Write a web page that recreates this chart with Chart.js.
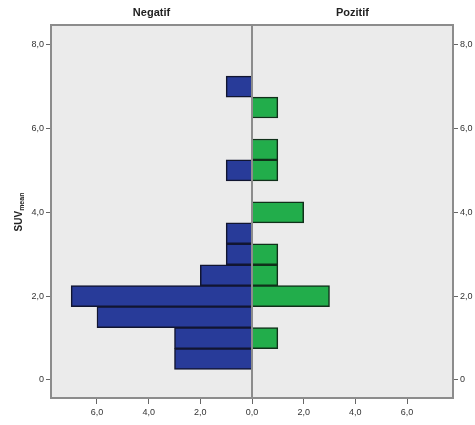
<!DOCTYPE html>
<html>
<head>
<meta charset="utf-8">
<script src="https://cdn.jsdelivr.net/npm/chart.js@4.4.1/dist/chart.umd.min.js"></script>
<style>
  body { margin: 0; background: #fff; }
  #wrap { width: 475px; height: 425px; position: relative; }
</style>
</head>
<body>
<div id="wrap"><canvas id="myChart"></canvas></div>
<script>
// SUVmean bins (centre of each 0.5 wide class)
const bins = [0.5, 1.0, 1.5, 2.0, 2.5, 3.0, 3.5, 4.0, 4.5, 5.0, 5.5, 6.0, 6.5, 7.0];
const negatif = [3, 3, 6, 7, 2, 1, 1, 0, 0, 1, 0, 0, 0, 1];
const pozitif = [0, 1, 0, 3, 1, 1, 0, 2, 0, 1, 1, 0, 1, 0];
const yTicks = [0, 2, 4, 6, 8];
const xTicks = [-6, -4, -2, 0, 2, 4, 6];
const panelTitles = ["Negatif", "Pozitif"];

const fmt = (v) => Math.abs(v).toFixed(1).replace(".", ",");

// turn counts into bar points, left side negative
const toPoints = (counts, sign) =>
  bins
    .map((b, i) => ({ x: sign * counts[i], y: b }))
    .filter((p) => p.x !== 0);

const frame = {
  id: "frame",
  beforeDatasetsDraw(chart) {
    const { ctx, chartArea: { left, top, right, bottom } } = chart;
    ctx.save();
    ctx.fillStyle = "#ebebeb";
    ctx.fillRect(left, top, right - left, bottom - top);
    ctx.restore();
  },
  afterDatasetsDraw(chart) {
    const { ctx, chartArea: { left, top, right, bottom }, scales } = chart;
    const x0 = scales.x.getPixelForValue(0);
    ctx.save();
    ctx.strokeStyle = "#8c8c8c";
    ctx.lineWidth = 2;
    ctx.beginPath();
    ctx.moveTo(x0, top);
    ctx.lineTo(x0, bottom);
    ctx.stroke();
    ctx.strokeRect(left, top, right - left, bottom - top);

    // panel titles
    ctx.fillStyle = "#222";
    ctx.font = "bold 11px 'Liberation Sans', Arial, sans-serif";
    ctx.textAlign = "center";
    ctx.textBaseline = "middle";
    ctx.fillText(panelTitles[0], (left + x0) / 2, 13);
    ctx.fillText(panelTitles[1], (x0 + right) / 2, 13);

    // y title with subscript
    ctx.translate(19, 212);
    ctx.rotate(-Math.PI / 2);
    ctx.textAlign = "left";
    ctx.font = "bold 10px 'Liberation Sans', Arial, sans-serif";
    const w1 = ctx.measureText("SUV").width;
    ctx.font = "bold 7px 'Liberation Sans', Arial, sans-serif";
    const w2 = ctx.measureText("mean").width;
    const start = -(w1 + w2) / 2;
    ctx.font = "bold 10px 'Liberation Sans', Arial, sans-serif";
    ctx.fillText("SUV", start, 0);
    ctx.font = "bold 7px 'Liberation Sans', Arial, sans-serif";
    ctx.fillText("mean", start + w1, 3);
    ctx.restore();
  },
};

const tickFont = { family: "'Liberation Sans', Arial, sans-serif", size: 9 };

const yAxis = (pos, width) => ({
  type: "linear",
  position: pos,
  offset: false,
  min: -0.43,
  max: 8.47,
  afterBuildTicks: (scale) => {
    scale.ticks = yTicks.map((v) => ({ value: v }));
  },
  afterFit: (scale) => {
    scale.width = width;
  },
  ticks: {
    color: "#333",
    font: tickFont,
    padding: 2,
    callback: (v) => (v === 0 ? "0" : fmt(v)),
  },
  grid: { offset: false, drawOnChartArea: false, tickLength: 5, color: "#666" },
  border: { display: false },
});

const config = {
  type: "bar",
  data: {
    datasets: [
      {
        label: panelTitles[0],
        data: toPoints(negatif, -1),
        backgroundColor: "#283b99",
        borderColor: "#111530",
        borderWidth: 1.5,
      },
      {
        label: panelTitles[1],
        data: toPoints(pozitif, 1),
        backgroundColor: "#22ad4b",
        borderColor: "#10301a",
        borderWidth: 1.5,
      },
    ],
  },
  plugins: [frame],
  options: {
    indexAxis: "y",
    responsive: true,
    maintainAspectRatio: false,
    animation: false,
    grouped: false,
    barPercentage: 1,
    categoryPercentage: 1,
    layout: { padding: { top: 25, left: 0, right: 0, bottom: 0 } },
    plugins: {
      legend: { display: false },
      tooltip: { enabled: false },
    },
    scales: {
      x: {
        type: "linear",
        min: -7.78,
        max: 7.78,
        afterBuildTicks: (scale) => {
          scale.ticks = xTicks.map((v) => ({ value: v }));
        },
        afterFit: (scale) => {
          scale.height = 27;
        },
        ticks: { color: "#333", font: tickFont, padding: 3, callback: (v) => fmt(v) },
        grid: { drawOnChartArea: false, tickLength: 6, color: "#666" },
        border: { display: false },
      },
      y: yAxis("left", 51),
      y2: yAxis("right", 22),
    },
  },
};

const myChart = new Chart(document.getElementById("myChart"), config);
</script>
</body>
</html>
